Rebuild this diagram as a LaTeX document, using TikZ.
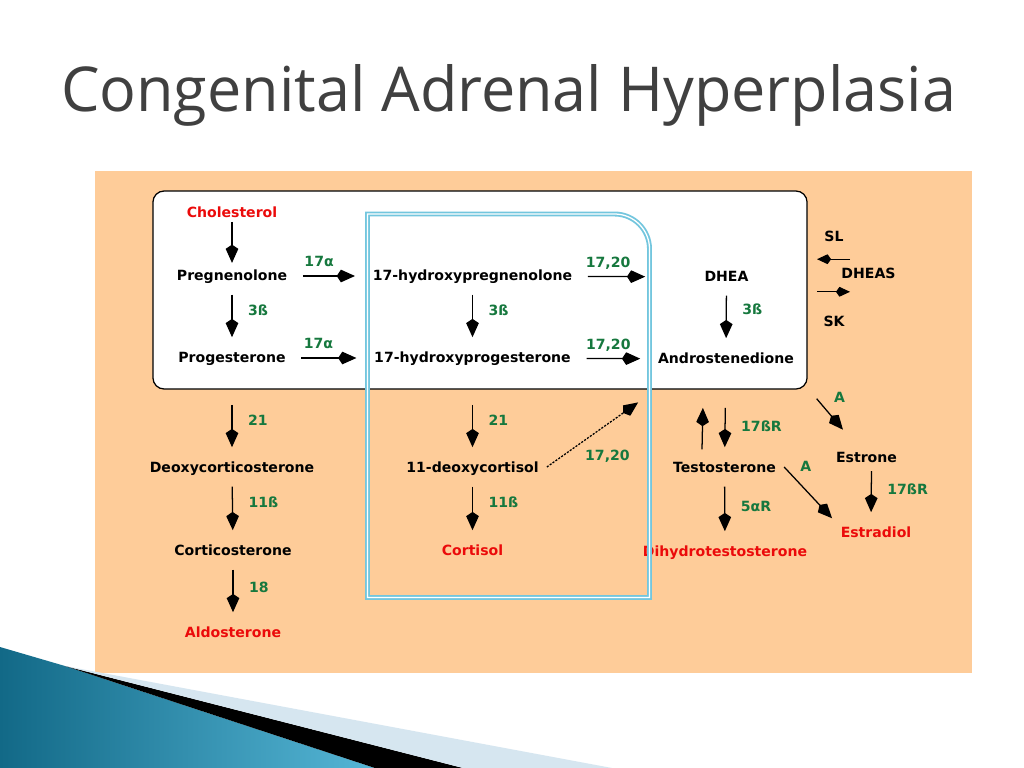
\documentclass[tikz,border=0pt]{standalone}
\usepackage{fontspec}
\setmainfont{DejaVu Sans}
\newfontfamily\titlefont{Open Sans}
\usetikzlibrary{arrows.meta,positioning,calc}

\definecolor{peach}{RGB}{254,204,153}
\definecolor{enzgreen}{RGB}{22,120,62}
\definecolor{hormred}{RGB}{235,10,10}
\definecolor{frameblue}{RGB}{115,198,222}
\definecolor{titlegrey}{RGB}{64,64,64}
\definecolor{tealdark}{RGB}{18,105,135}
\definecolor{teallight}{RGB}{85,182,214}
\definecolor{paleblue}{RGB}{214,230,240}

\begin{document}
\begin{tikzpicture}[
    x=0.025cm, y=-0.025cm,
    chem/.style={font=\bfseries\fontsize{10}{12}\selectfont, text height=8pt, text depth=2.2pt, inner xsep=11pt, inner ysep=8pt},
    prod/.style={chem, text=hormred},
    enz/.style={font=\bfseries\fontsize{10}{12}\selectfont, text=enzgreen, text height=8pt, text depth=2.2pt, inner sep=0pt},
    arr/.style={-{Kite[length=13pt,width=9pt,inset=3pt]}, line width=0.9pt, shorten >=1.5pt},
    sarr/.style={-{Kite[length=10pt,width=7pt,inset=2.5pt]}, line width=0.9pt},
    pool/.style={draw, line width=0.9pt, fill=white, rounded corners=8pt, minimum width=16.35cm, minimum height=4.95cm}
  ]
    \useasboundingbox (0,0) rectangle (1024,768);
    \fill[white] (0,0) rectangle (1024,768);

    % slide
    \node[font=\titlefont\fontsize{44}{50}\selectfont, text=titlegrey, anchor=base, xscale=0.987] (title) at (508.5,112) {Congenital Adrenal Hyperplasia};
    \fill[peach] (95,171) rectangle (972,673);
    \shade[left color=tealdark, right color=teallight] (0,647) -- (65,666) -- (375,768) -- (0,768) -- cycle;
    \fill[black] (65,666) -- (463,768) -- (375,768) -- cycle;
    \fill[paleblue] (65,666) -- (612,768) -- (463,768) -- cycle;

    \node[pool] (box) at (480,290) {};

    % steroids
    \node[prod, inner ysep=1pt] (chol) at (232,213) {Cholesterol};
    \node[chem] (preg) at (232,276) {Pregnenolone};
    \node[chem] (prog) at (232,358) {Progesterone};
    \node[chem] (ohpreg) at (472.5,276) {17-hydroxypregnenolone};
    \node[chem] (ohprog) at (472.5,358) {17-hydroxyprogesterone};
    \node[chem] (dhea) at (726.5,277) {DHEA};
    \node[chem] (andro) at (726,359) {Androstenedione};
    \node[chem] (sl) at (834,237) {SL};
    \node[chem] (dheas) at (868.5,274) {DHEAS};
    \node[chem] (sk) at (834,322) {SK};
    \node[chem] (deoxy) at (232,468) {Deoxycorticosterone};
    \node[chem] (cortico) at (233,551) {Corticosterone};
    \node[prod] (aldo) at (233,633) {Aldosterone};
    \node[chem] (dcort) at (472.5,468) {11-deoxycortisol};
    \node[prod] (cortisol) at (472.5,551) {Cortisol};
    \node[chem] (testo) at (724.5,468) {Testosterone};
    \node[prod] (dht) at (725,552) {Dihydrotestosterone};
    \node[chem] (estrone) at (866.5,458) {Estrone};
    \node[prod] (estradiol) at (876,533) {Estradiol};

    % enzymes
    \draw[arr, shorten >=-4pt] (chol) -- (preg);
    \draw[arr] (preg) -- node[enz, right=11pt, pos=0.38] {3ß} (prog);
    \draw[arr] (preg) -- node[enz, above=4pt, pos=0.3] {17α} (ohpreg);
    \draw[arr] (prog) -- node[enz, above=4pt, pos=0.3] {17α} (ohprog);
    \draw[arr] (ohpreg) -- node[enz, right=11pt, pos=0.38] {3ß} (ohprog);
    \draw[arr, shorten >=31pt] (ohpreg) -- node[enz, above=4pt, pos=0.2] {17,20} (dhea);
    \draw[arr] (ohprog) -- node[enz, above=4pt, pos=0.39] {17,20} (andro);
    \draw[arr] (dhea) -- node[enz, right=11pt, pos=0.34] {3ß} (andro);
    \draw[sarr] ($(sl.south)+(16,3.5)$) -- ($(sl.south)+(-17,3.5)$);
    \draw[sarr] ($(sk.north)+(-17,-11.5)$) -- ($(sk.north)+(16,-11.5)$);
    \draw[arr, shorten <=20pt] (prog) -- node[enz, right=11pt, pos=0.62] {21} (deoxy);
    \draw[arr, shorten <=20pt] (ohprog) -- node[enz, right=11pt, pos=0.62] {21} (dcort);
    \draw[arr] (deoxy) -- node[enz, right=11pt, pos=0.36] {11ß} (cortico);
    \draw[arr] (dcort) -- node[enz, right=11pt, pos=0.36] {11ß} (cortisol);
    \draw[arr] (cortico) -- node[enz, right=11pt, pos=0.43] {18} (aldo);
    \draw[arr, dash pattern=on 1.5pt off 1pt] ($(dcort.east)+(-7.5,-1)$) -- node[enz, below=10.5pt, xshift=10pt, pos=0.5] {17,20} ($(andro.south west)+(-2.5,23.5)$);
    \draw[arr, shorten <=21.5pt] (andro) -- node[enz, right=11pt, pos=0.69] {17ßR} (testo);
    \draw[arr, shorten >=21.5pt] ([xshift=-16pt]testo.north) -- ([xshift=-16pt]andro.south);
    \draw[arr] (testo) -- node[enz, right=11pt, pos=0.44] {5αR} (dht);
    \draw[arr] ($(andro.south east)+(7,21)$) -- node[enz, right=12pt, pos=0] {A} ($(estrone.north west)+(24,-8)$);
    \draw[arr] ($(testo.east)+(-7.5,-1)$) -- node[enz, right=11pt, pos=0] {A} ($(estradiol.north west)+(8.5,5.5)$);
    \draw[arr, shorten <=-4pt] ([xshift=3.5pt]estrone.south) -- node[enz, right=11pt, pos=0.36] {17ßR} ([xshift=-3.5pt]estradiol.north);

    % cortisol pathway frame
    \draw[frameblue, line width=1.3pt, double=white, double distance=0.9pt] (367.5,597.5) -- (367.5,214) -- (614.5,214) arc[start angle=90, end angle=0, radius=0.875cm] -- (649.5,597.5) -- cycle;
\end{tikzpicture}
\end{document}
